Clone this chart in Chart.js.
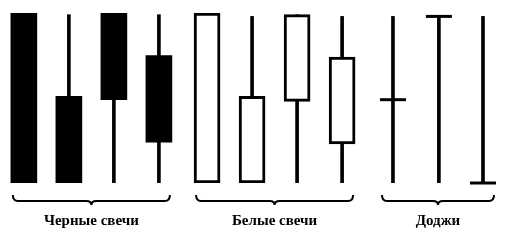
<!DOCTYPE html>
<html>
<head>
<meta charset="utf-8">
<script src="https://cdn.jsdelivr.net/npm/chart.js@4"></script>
<style>
  html, body { margin: 0; padding: 0; background: #fff; }
  #wrap { width: 510px; height: 240px; }
</style>
</head>
<body>
<div id="wrap"><canvas id="myChart"></canvas></div>
<script>
// позиции свечей по оси x (в условных единицах)
var posX = [1, 2, 3, 4, 5.07, 6.07, 7.07, 8.07, 9.2, 10.22, 11.2];
// open / close / high / low
var openV  = [100, 51, 100, 75, 0, 0, 48, 23, 49, 98, 0];
var closeV = [0, 0, 49, 24, 100, 51, 99, 74, 49, 98, 0];
var highV  = [100, 99, 100, 99, 100, 98, 99, 98, 98, 98, 98];
var lowV   = [0, 0, 0, 0, 0, 0, 0, 0, 0, 0, 0];
// тип свечи: black / white / doji
var kind = ['black', 'black', 'black', 'black', 'white', 'white', 'white', 'white', 'doji', 'doji', 'doji'];

var groupNames = ['Черные свечи', 'Белые свечи', 'Доджи'];
var groupFirst = [0, 4, 8];
var groupLast  = [3, 7, 10];

var wickData = [];
var blackBody = [];
var whiteBody = [];
var dojiData = [];

for (var i = 0; i < posX.length; i++) {
  wickData.push({x: posX[i], y: [lowV[i], highV[i]]});
  if (kind[i] == 'black') {
    blackBody.push({x: posX[i], y: [closeV[i], openV[i]]});
  } else if (kind[i] == 'white') {
    whiteBody.push({x: posX[i], y: [openV[i], closeV[i]]});
  } else {
    dojiData.push({x: posX[i], y: openV[i]});
  }
}

// фигурные скобки и подписи групп
var bracePlugin = {
  id: 'braces',
  afterDraw: function(chart) {
    var ctx = chart.ctx;
    var xs = chart.scales.x;
    var base = chart.chartArea.bottom;
    ctx.save();
    ctx.strokeStyle = '#000';
    ctx.lineWidth = 2;
    for (var g = 0; g < groupNames.length; g++) {
      var x1 = xs.getPixelForValue(posX[groupFirst[g]]) - 11;
      var x2 = xs.getPixelForValue(posX[groupLast[g]]) + 11;
      var mid = (x1 + x2) / 2;
      var yTop = base + 12, yLine = base + 18, yTip = base + 22, r = 5;
      ctx.beginPath();
      ctx.moveTo(x1, yTop);
      ctx.quadraticCurveTo(x1, yLine, x1 + r, yLine);
      ctx.lineTo(mid - r, yLine);
      ctx.quadraticCurveTo(mid, yLine, mid, yTip);
      ctx.quadraticCurveTo(mid, yLine, mid + r, yLine);
      ctx.lineTo(x2 - r, yLine);
      ctx.quadraticCurveTo(x2, yLine, x2, yTop);
      ctx.stroke();

      ctx.fillStyle = '#000';
      ctx.font = 'bold 15px "Liberation Serif", "DejaVu Serif", serif';
      ctx.textAlign = 'center';
      ctx.textBaseline = 'middle';
      ctx.fillText(groupNames[g], mid, base + 38);
    }
    ctx.restore();
  }
};

var ctx = document.getElementById('myChart');
var chart = new Chart(ctx, {
  type: 'bar',
  data: {
    datasets: [
      {
        type: 'scatter',
        data: dojiData,
        pointStyle: 'line',
        pointRadius: 13,
        pointHoverRadius: 13,
        borderColor: '#000',
        borderWidth: 3,
        clip: false,
        order: 0
      },
      {
        data: blackBody,
        backgroundColor: '#000',
        borderWidth: 0,
        barThickness: 26,
        grouped: false,
        borderSkipped: false,
        order: 1
      },
      {
        data: whiteBody,
        backgroundColor: '#fff',
        borderColor: '#000',
        borderWidth: 3,
        barThickness: 26,
        grouped: false,
        borderSkipped: false,
        order: 1
      },
      {
        data: wickData,
        backgroundColor: '#000',
        borderWidth: 0,
        barThickness: 3,
        grouped: false,
        order: 2
      }
    ]
  },
  options: {
    responsive: true,
    maintainAspectRatio: false,
    animation: false,
    layout: { autoPadding: false, padding: { top: 13, bottom: 57, left: 0, right: 0 } },
    plugins: { legend: { display: false }, tooltip: { enabled: false } },
    scales: {
      x: { type: 'linear', min: 0.47, max: 11.8, offset: false, display: false },
      y: { min: 0, max: 100, display: false }
    }
  },
  plugins: [bracePlugin]
});
</script>
</body>
</html>
